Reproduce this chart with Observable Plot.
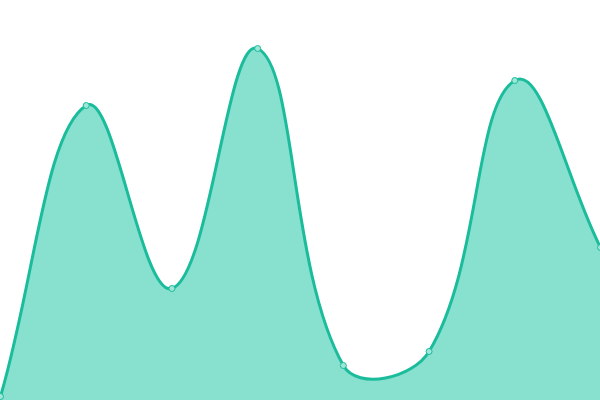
<!DOCTYPE html>
<html><head><meta charset="utf-8">
<script src="https://cdn.jsdelivr.net/npm/d3@7"></script>
<script src="https://cdn.jsdelivr.net/npm/@observablehq/plot@0.6"></script>
<style>body{margin:0;background:#fff}svg{display:block}</style>
</head><body>
<div id="chart"></div>
<script>
const xs = [0, 1, 2, 3, 4, 5, 6, 7];
const values = [4, 295, 112, 352, 35, 49, 320, 153];
const data = xs.map((x, i) => ({x, y: values[i]}));

const W = 600, H = 400, TENSION = 0.4;
function SplineCurve(context) { this._context = context; }
SplineCurve.prototype = {
  areaStart() { this._line = 0; },
  areaEnd() { this._line = NaN; },
  lineStart() { this._pts = []; },
  point(x, y) { this._pts.push([+x, +y]); },
  lineEnd() {
    const p = this._pts, n = p.length, c = this._context;
    const clamp = (v, lo, hi) => Math.max(lo, Math.min(hi, v));
    if (n) {
      if (this._line) c.lineTo(p[0][0], p[0][1]); else c.moveTo(p[0][0], p[0][1]);
      const cpPrev = [], cpNext = [];
      for (let i = 0; i < n; i++) {
        const a = p[i - 1] || p[i], b = p[i], d = p[i + 1] || p[i];
        const d01 = Math.hypot(b[0] - a[0], b[1] - a[1]);
        const d12 = Math.hypot(d[0] - b[0], d[1] - b[1]);
        let s01 = d01 / (d01 + d12), s12 = d12 / (d01 + d12);
        if (!isFinite(s01)) s01 = 0;
        if (!isFinite(s12)) s12 = 0;
        const fa = TENSION * s01, fb = TENSION * s12;
        cpPrev[i] = [clamp(b[0] - fa * (d[0] - a[0]), 0, W), clamp(b[1] - fa * (d[1] - a[1]), 0, H)];
        cpNext[i] = [clamp(b[0] + fb * (d[0] - a[0]), 0, W), clamp(b[1] + fb * (d[1] - a[1]), 0, H)];
      }
      for (let i = 1; i < n; i++) {
        c.bezierCurveTo(cpNext[i - 1][0], cpNext[i - 1][1], cpPrev[i][0], cpPrev[i][1], p[i][0], p[i][1]);
      }
    }
    if (this._line || (this._line !== 0 && n === 1)) c.closePath();
    this._line = 1 - this._line;
  }
};
const spline = (context) => new SplineCurve(context);

const chart = Plot.plot({
  width: W, height: H,
  margin: 0,
  x: {domain: [0, 7], axis: null},
  y: {domain: [0, 400], axis: null},
  marks: [
    Plot.areaY(data, {x: "x", y: "y", curve: spline, fill: "#88e0cf"}),
    Plot.lineY(data, {x: "x", y: "y", curve: spline, stroke: "#1abc9c", strokeWidth: 3}),
    Plot.dot(data, {x: "x", y: "y", r: 3, fill: "#9fe6d8", stroke: "#1abc9c", strokeWidth: 1})
  ]
});
document.getElementById("chart").appendChild(chart);
</script>
</body></html>
